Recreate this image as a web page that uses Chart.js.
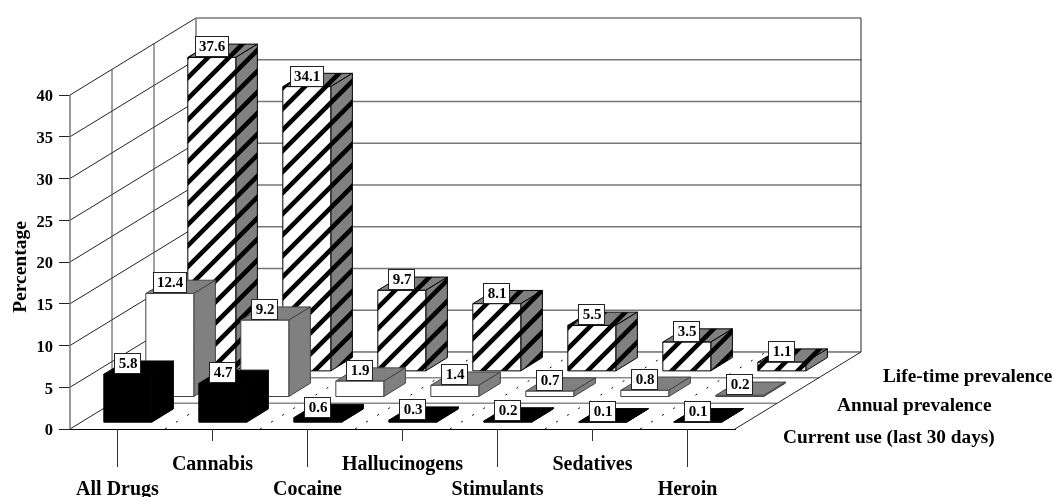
<!DOCTYPE html>
<html>
<head>
<meta charset="utf-8">
<style>html,body{margin:0;padding:0;background:#fff}canvas{display:block}</style>
<script src="https://cdn.jsdelivr.net/npm/chart.js@4"></script>
</head>
<body>
<canvas id="grafico" width="1054" height="497"></canvas>
<script>
// dados
const drogas = ["All Drugs", "Cannabis", "Cocaine", "Hallucinogens", "Stimulants", "Sedatives", "Heroin"];
const series = ["Current use (last 30 days)", "Annual prevalence", "Life-time prevalence"];
const atual = [5.8, 4.7, 0.6, 0.3, 0.2, 0.1, 0.1];
const anual = [12.4, 9.2, 1.9, 1.4, 0.7, 0.8, 0.2];
const vida = [37.6, 34.1, 9.7, 8.1, 5.5, 3.5, 1.1];
const marcasY = [0, 5, 10, 15, 20, 25, 30, 35, 40];

// profundidade do grafico 3d
const FX = 42, FY = 25.67;         // deslocamento de cada fileira
const BX = 10.3, BY = 6.3;         // recuo da barra dentro da fileira
const PX = 21.6, PY = 13.3;        // profundidade da barra
const SERIF = '"Liberation Serif"';
const posSerie = [[783, 438], [837, 406], [883, 377]];

// hachura diagonal
function hachura(ctx, fundo) {
  const c = document.createElement('canvas');
  c.width = 21; c.height = 21;
  const g = c.getContext('2d');
  g.fillStyle = fundo;
  g.fillRect(0, 0, 21, 21);
  g.strokeStyle = '#000';
  g.lineWidth = 4.6;
  for (const k of [-7.5, 13.5, 34.5, 55.5]) {
    g.beginPath();
    g.moveTo(k + 6, -6);
    g.lineTo(k - 30, 30);
    g.stroke();
  }
  return ctx.createPattern(c, 'repeat');
}

function linha(ctx, x1, y1, x2, y2, cor, larg, dash) {
  ctx.save();
  ctx.strokeStyle = cor;
  ctx.lineWidth = larg;
  ctx.setLineDash(dash || []);
  ctx.beginPath();
  ctx.moveTo(x1, y1);
  ctx.lineTo(x2, y2);
  ctx.stroke();
  ctx.restore();
}

function face(ctx, pts, cor, borda) {
  ctx.beginPath();
  pts.forEach((p, i) => i ? ctx.lineTo(p[0], p[1]) : ctx.moveTo(p[0], p[1]));
  ctx.closePath();
  ctx.fillStyle = cor;
  ctx.fill();
  ctx.strokeStyle = borda;
  ctx.lineWidth = 1;
  ctx.stroke();
}

const barras3d = {
  id: 'barras3d',
  beforeDraw(chart) {
    const ctx = chart.ctx;
    ctx.save();
    ctx.fillStyle = '#fff';
    ctx.fillRect(0, 0, chart.width, chart.height);
    ctx.restore();
  },
  beforeDatasetsDraw(chart) {
    const ctx = chart.ctx, x = chart.scales.x, y = chart.scales.y;
    const esq = chart.chartArea.left, dir = chart.chartArea.right;
    const zero = y.getPixelForValue(0), topo = y.getPixelForValue(40);

    // paredes
    for (const t of y.ticks) {
      const py = y.getPixelForValue(t.value);
      if (t.value > 0) linha(ctx, esq + 3 * FX, py - 3 * FY, dir + 3 * FX, py - 3 * FY, '#777', 1.5);
      linha(ctx, esq, py, esq + 3 * FX, py - 3 * FY, '#222', 1);
    }
    linha(ctx, esq, topo, esq, zero, '#777', 1.5);
    for (let d = 1; d <= 3; d++) {
      linha(ctx, esq + d * FX, topo - d * FY, esq + d * FX, zero - d * FY, d < 3 ? '#444' : '#777', d < 3 ? 1 : 1.5);
      linha(ctx, esq + d * FX, zero - d * FY, dir + d * FX, zero - d * FY, d < 3 ? '#888' : '#222', d < 3 ? 1.5 : 1);
    }
    linha(ctx, dir + 3 * FX, topo - 3 * FY, dir + 3 * FX, zero - 3 * FY, '#222', 1);
    linha(ctx, dir, zero, dir + 3 * FX, zero - 3 * FY, '#222', 1);

    // pontilhado do piso
    const passo = (dir - esq) / drogas.length;
    for (let i = 1; i < drogas.length; i++) {
      linha(ctx, esq + i * passo, zero, esq + i * passo + 3 * FX, zero - 3 * FY, '#000', 1, [2, 11]);
    }

    // marcas do eixo x, alternando tamanho
    drogas.forEach((d, i) => {
      const px = Math.round(x.getPixelForTick(i)) - 0.5;
      linha(ctx, px, zero, px, zero + (i % 2 ? 12 : 38), '#333', 1);
    });

    // textos
    ctx.save();
    ctx.fillStyle = '#000';
    ctx.font = 'bold 19.3px ' + SERIF;
    ctx.textBaseline = 'middle';
    ctx.textAlign = 'left';
    series.forEach((s, i) => ctx.fillText(s, posSerie[i][0], posSerie[i][1]));
    ctx.translate(21, 267);
    ctx.rotate(-Math.PI / 2);
    ctx.textAlign = 'center';
    ctx.font = 'bold 19.5px ' + SERIF;
    ctx.fillText('Percentage', 0, 0);
    ctx.restore();
  },
  beforeDatasetDraw(chart, args) {
    const ctx = chart.ctx, d = args.index;
    const meta = args.meta;
    const dx = BX + d * FX, dy = BY + d * FY;
    const ds = chart.data.datasets[d];
    const frente = d === 2 ? hachura(ctx, '#fff') : d === 1 ? '#fff' : '#000';
    const lado = d === 2 ? hachura(ctx, '#808080') : d === 1 ? '#808080' : '#000';
    const borda = d === 1 ? '#444' : '#000';

    meta.data.forEach((b, i) => {
      const l = b.x - b.width / 2 + dx, r = b.x + b.width / 2 + dx;
      const t = b.y - dy, u = b.base - dy;
      face(ctx, [[l, t], [l + PX, t - PY], [r + PX, t - PY], [r, t]], lado, borda);
      face(ctx, [[r, t], [r + PX, t - PY], [r + PX, u - PY], [r, u]], lado, borda);
      face(ctx, [[l, t], [r, t], [r, u], [l, u]], frente, borda);
    });

    // caixas com os valores
    ctx.save();
    ctx.font = 'bold 15px ' + SERIF;
    ctx.textAlign = 'center';
    ctx.textBaseline = 'middle';
    meta.data.forEach((b, i) => {
      const txt = ds.data[i].toFixed(1);
      const w = Math.round(ctx.measureText(txt).width) + 8;
      const cx = Math.round(b.x + dx), t = Math.round(b.y - dy);
      const bx = cx - Math.round(w / 2);
      ctx.fillStyle = '#fff';
      ctx.fillRect(bx, t - 21, w, 20);
      ctx.strokeStyle = '#222';
      ctx.lineWidth = 1;
      ctx.strokeRect(bx + 0.5, t - 20.5, w - 1, 20);
      ctx.fillStyle = '#000';
      ctx.fillText(txt, cx, t - 9.5);
    });
    ctx.restore();
    return false;
  }
};

let grafico = new Chart(document.getElementById('grafico'), {
  type: 'bar',
  data: {
    labels: drogas,
    datasets: [
      {label: series[0], data: atual, grouped: false, backgroundColor: '#000'},
      {label: series[1], data: anual, grouped: false, backgroundColor: '#fff'},
      {label: series[2], data: vida, grouped: false, backgroundColor: '#808080'}
    ]
  },
  options: {
    responsive: false,
    animation: false,
    events: [],
    categoryPercentage: 0.505,
    barPercentage: 1,
    layout: {autoPadding: false, padding: {top: 95, right: 319, left: 0, bottom: 0}},
    plugins: {legend: {display: false}, tooltip: {enabled: false}},
    scales: {
      x: {
        afterFit: s => { s.height = 68; },
        grid: {display: false},
        border: {display: true, color: '#000', width: 1},
        ticks: {
          autoSkip: false, maxRotation: 0, minRotation: 0, color: '#000', padding: 16,
          font: {family: SERIF, size: 20, weight: 'bold', lineHeight: 1.22},
          callback(v, i) {
            const nome = this.getLabelForValue(v);
            return i % 2 ? [nome, ''] : ['', nome];
          }
        }
      },
      y: {
        min: 0, max: 40,
        afterFit: s => { s.width = 70; },
        afterBuildTicks: s => { s.ticks = marcasY.map(v => ({value: v})); },
        border: {display: false},
        grid: {drawOnChartArea: false, drawTicks: true, tickLength: 11, color: '#222'},
        ticks: {color: '#000', padding: 6, labelOffset: 2, font: {family: SERIF, size: 16.5, weight: 'bold'}}
      }
    }
  },
  plugins: [barras3d]
});
</script>
</body>
</html>
